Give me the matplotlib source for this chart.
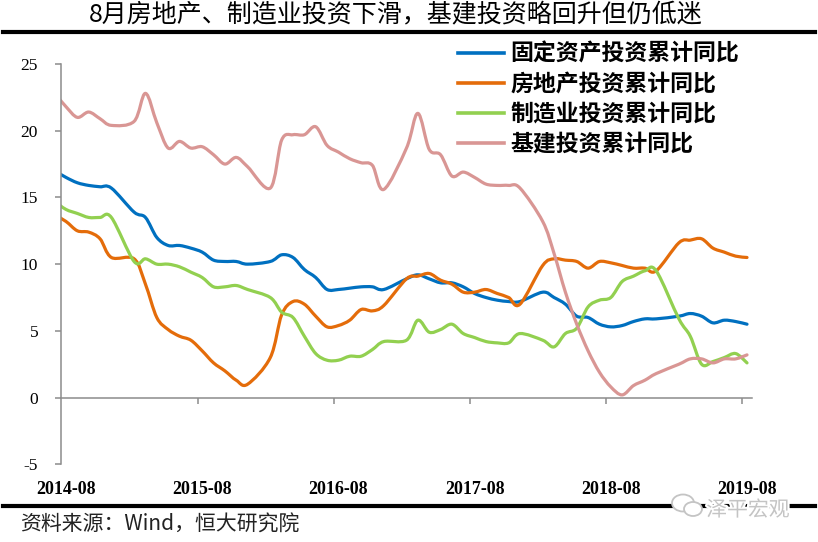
import matplotlib
matplotlib.use("Agg")
import numpy as np
import matplotlib.pyplot as plt
from matplotlib.path import Path
from matplotlib.patches import PathPatch, Ellipse
from matplotlib.lines import Line2D
from matplotlib.font_manager import FontProperties
import matplotlib.patheffects as pe

plt.rcParams["axes.unicode_minus"] = False

# monthly cumulative data (no separate January release)
MONTHS = [
    "2014-07", "2014-08", "2014-09", "2014-10", "2014-11", "2014-12",
    "2015-02", "2015-03", "2015-04", "2015-05", "2015-06", "2015-07",
    "2015-08", "2015-09", "2015-10", "2015-11", "2015-12",
    "2016-02", "2016-03", "2016-04", "2016-05", "2016-06", "2016-07",
    "2016-08", "2016-09", "2016-10", "2016-11", "2016-12",
    "2017-02", "2017-03", "2017-04", "2017-05", "2017-06", "2017-07",
    "2017-08", "2017-09", "2017-10", "2017-11", "2017-12",
    "2018-02", "2018-03", "2018-04", "2018-05", "2018-06", "2018-07",
    "2018-08", "2018-09", "2018-10", "2018-11", "2018-12",
    "2019-02", "2019-03", "2019-04", "2019-05", "2019-06", "2019-07",
    "2019-08",
]

FAI = [
    17.0, 16.5, 16.1, 15.9, 15.8, 15.7,
    13.9, 13.5, 12.0, 11.4, 11.4, 11.2, 10.9, 10.3, 10.2, 10.2, 10.0,
    10.2, 10.7, 10.5, 9.6, 9.0, 8.1, 8.1, 8.2, 8.3, 8.3, 8.1,
    8.9, 9.2, 8.9, 8.6, 8.6, 8.3, 7.8, 7.5, 7.3, 7.2, 7.2,
    7.9, 7.5, 7.0, 6.1, 6.0, 5.5, 5.3, 5.4, 5.7, 5.9, 5.9,
    6.1, 6.3, 6.1, 5.6, 5.8, 5.7, 5.5,
]
REAL_ESTATE = [
    13.7, 13.2, 12.5, 12.4, 11.9, 10.5,
    10.4, 8.5, 6.0, 5.1, 4.6, 4.3, 3.5, 2.6, 2.0, 1.3, 1.0,
    3.0, 6.2, 7.2, 7.0, 6.1, 5.3, 5.4, 5.8, 6.6, 6.5, 6.9,
    8.9, 9.1, 9.3, 8.8, 8.5, 7.9, 7.9, 8.1, 7.8, 7.5, 7.0,
    9.9, 10.4, 10.3, 10.2, 9.7, 10.2, 10.1, 9.9, 9.7, 9.7, 9.5,
    11.6, 11.8, 11.9, 11.2, 10.9, 10.6, 10.5,
]
MANUFACTURING = [
    14.7, 14.1, 13.8, 13.5, 13.5, 13.5,
    10.2, 10.4, 10.0, 10.0, 9.8, 9.4, 9.0, 8.3, 8.3, 8.4, 8.1,
    7.5, 6.4, 6.0, 4.6, 3.3, 2.8, 2.8, 3.1, 3.1, 3.6, 4.2,
    4.3, 5.8, 4.9, 5.1, 5.5, 4.8, 4.5, 4.2, 4.1, 4.1, 4.8,
    4.3, 3.8, 4.8, 5.2, 6.8, 7.3, 7.5, 8.7, 9.1, 9.5, 9.5,
    5.9, 4.6, 2.5, 2.7, 3.0, 3.3, 2.6,
]
INFRA = [
    22.8, 21.8, 21.0, 21.4, 20.9, 20.4,
    20.7, 22.8, 20.6, 18.7, 19.2, 18.7, 18.8, 18.2, 17.5, 18.0, 17.3,
    15.7, 19.3, 19.7, 19.7, 20.3, 18.9, 18.4, 17.9, 17.6, 17.4, 15.6,
    18.7, 21.3, 18.6, 18.2, 16.6, 16.9, 16.5, 16.0, 15.9, 15.9, 15.7,
    13.2, 10.8, 7.9, 5.5, 3.5, 1.9, 0.8, 0.2, 0.9, 1.3, 1.8,
    2.5, 2.9, 2.9, 2.6, 2.9, 2.9, 3.2,
]

SERIES = [FAI, REAL_ESTATE, MANUFACTURING, INFRA]
NAMES = ["固定资产投资累计同比", "房地产投资累计同比", "制造业投资累计同比", "基建投资累计同比"]
COLORS = ["#0070C0", "#E46C0A", "#92D050", "#D99694"]
TICK_LABELS = ["2014-08", "2015-08", "2016-08", "2017-08", "2018-08", "2019-08"]

TITLE = "8月房地产、制造业投资下滑，基建投资略回升但仍低迷"
SOURCE = "资料来源：Wind，恒大研究院"
MARK = "泽平宏观"

CJK = ["Noto Sans CJK SC", "DejaVu Sans"]
SERIF = "Liberation Serif"


def month_index(label):
    """months counted from 2014-08"""
    y, m = label.split("-")
    return (int(y) - 2014) * 12 + int(m) - 8


def smooth_path(x, y):
    # Excel style smoothed line: Catmull-Rom pieces drawn as cubic Beziers
    pts = np.column_stack([x, y])
    n = len(pts)
    verts = [pts[0]]
    codes = [Path.MOVETO]
    for i in range(n - 1):
        p0 = pts[i - 1] if i > 0 else pts[i]
        p1, p2 = pts[i], pts[i + 1]
        p3 = pts[i + 2] if i + 2 < n else pts[i + 1]
        verts += [p1 + (p2 - p0) / 6.0, p2 - (p3 - p1) / 6.0, p2]
        codes += [Path.CURVE4] * 3
    return Path(verts, codes)


W, H = 818, 542
fig = plt.figure(figsize=(W / 100, H / 100), dpi=100)
ax = fig.add_axes([61 / W, 1 - 464.3 / H, 691 / W, 400.3 / H])

x = np.array([month_index(m) for m in MONTHS], dtype=float)
for vals, color in zip(SERIES, COLORS):
    ax.add_patch(PathPatch(smooth_path(x, np.array(vals)), facecolor="none",
                           edgecolor=color, lw=2.3, capstyle="round",
                           joinstyle="round"))

ax.set_xlim(-0.44, 60.44)
ax.set_ylim(-5, 25)

axis_gray = "#8c8c8c"
for s in ["top", "right"]:
    ax.spines[s].set_visible(False)
ax.spines["left"].set_color(axis_gray)
ax.spines["left"].set_linewidth(1.1)
ax.spines["bottom"].set_position(("data", 0))
ax.spines["bottom"].set_color(axis_gray)
ax.spines["bottom"].set_linewidth(1.1)

ax.set_yticks(range(-5, 26, 5))
ax.tick_params(axis="y", direction="out", length=4.5, width=1.1,
               color=axis_gray, pad=12, labelsize=12.5)
for lab in ax.get_yticklabels():
    lab.set_fontfamily(SERIF)

ax.set_xticks([12 * k for k in range(len(TICK_LABELS))])
ax.set_xticklabels(TICK_LABELS, fontfamily=SERIF, fontweight="bold", fontsize=13)
ax.tick_params(axis="x", which="major", length=0, pad=60)
ax.set_xticks([12 * k - 0.4 for k in range(1, len(TICK_LABELS))], minor=True)
ax.tick_params(axis="x", which="minor", direction="out", length=4, width=1.1,
               color=axis_gray)

handles = [Line2D([], [], color=c, lw=2.6) for c in COLORS]
ax.legend(handles, NAMES, loc="upper left", bbox_to_anchor=(458 / W, 1 - 43 / H),
          bbox_transform=fig.transFigure, frameon=False, borderpad=0,
          borderaxespad=0, handlelength=2.0, handletextpad=0.3,
          labelspacing=0.3,
          prop=FontProperties(family=CJK, size=16.5, weight="bold"))

# header / footer
fig.text(396 / W, 1 - 15 / H, TITLE, ha="center", va="center",
         fontsize=18, family=CJK)
fig.add_artist(Line2D([3 / W, 815 / W], [1 - 32 / H] * 2,
                      transform=fig.transFigure, color="black", lw=3))
fig.add_artist(Line2D([3 / W, 815 / W], [1 - 506 / H] * 2,
                      transform=fig.transFigure, color="black", lw=3))
fig.text(20 / W, 1 - 525 / H, SOURCE, ha="left", va="center",
         fontsize=15, family=CJK, style="italic", color="#222222")

# watermark: small chat-bubble icon plus the account name
mark_gray = "#c4c4c4"
for cx, cy, w, h in [(683, 503, 22, 17), (693, 509, 18, 14)]:
    fig.add_artist(Ellipse((cx / W, 1 - cy / H), w / W, h / H,
                           transform=fig.transFigure, facecolor="white",
                           edgecolor=mark_gray, lw=1.3, zorder=5))
fig.text(748 / W, 1 - 510 / H, MARK, ha="center", va="center",
         fontsize=15, family=CJK, color=mark_gray, zorder=6,
         path_effects=[pe.withStroke(linewidth=3, foreground="white")])

fig.savefig("out.png", dpi=100)
